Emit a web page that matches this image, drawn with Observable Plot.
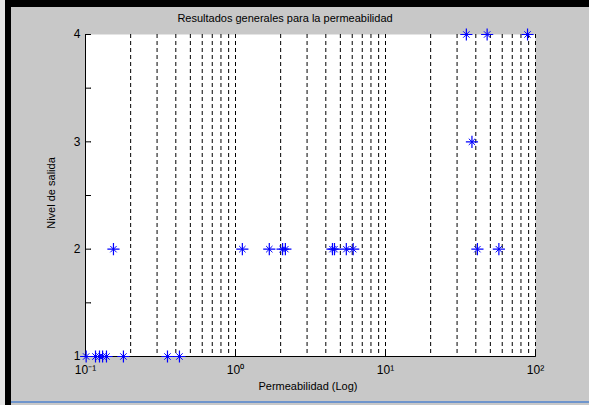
<!DOCTYPE html>
<html><head><meta charset="utf-8">
<script src="https://cdn.jsdelivr.net/npm/d3@7"></script>
<script src="https://cdn.jsdelivr.net/npm/@observablehq/plot@0.6"></script>
<style>
html,body{margin:0;padding:0;background:#c8c8c8;}
#fig{position:relative;width:589px;height:405px;background:#c8c8c8;overflow:hidden;font-family:"Liberation Sans",Arial,Helvetica,sans-serif;}
.txt{position:absolute;color:#000;white-space:nowrap;font-size:11px;line-height:13px;}
#chart{position:absolute;left:0;top:0;}
</style></head><body>
<div id="fig">
  <div style="position:absolute;left:0;top:0;width:5px;height:405px;background:#e6e6e6"></div>
  <div style="position:absolute;left:5px;top:0;width:584px;height:7px;background:#000"></div>
  <div style="position:absolute;left:5px;top:0;width:6px;height:405px;background:#000"></div>
  <div style="position:absolute;left:11px;top:401px;width:578px;height:2px;background:#6f95cc"></div>
  <div id="chart"></div>
  <div class="txt" id="title" style="left:285px;top:12px;transform:translateX(-50%)"></div>
  <div class="txt" id="xlab" style="left:308px;top:380px;transform:translateX(-50%)"></div>
  <div class="txt" id="ylab" style="left:51px;top:193px;transform:translate(-50%,-50%) rotate(-90deg)"></div>
</div>
<script>
const titleText = "Resultados generales para la permeabilidad";
const xLabel = "Permeabilidad (Log)";
const yLabel = "Nivel de salida";

// permeability values per output level
const perm1 = [0.101, 0.1166, 0.124, 0.13, 0.138, 0.179, 0.352, 0.423];
const perm2 = [0.1536, 1.111, 1.68, 2.06, 2.15, 4.43, 4.57, 5.48, 6.09, 41, 57];
const perm3 = [37.7];
const perm4 = [34.6, 47.6, 88.5];

const xTicks = [0.1, 1, 10, 100];
const xTickLabels = ["10\u207B\u00B9", "10\u2070", "10\u00B9", "10\u00B2"];
const gridX = [0.2,0.3,0.4,0.5,0.6,0.7,0.8,0.9,1,2,3,4,5,6,7,8,9,10,20,30,40,50,60,70,80,90,100];
const yTicks = [1, 1.5, 2, 2.5, 3, 3.5, 4];
const yTickLabels = [1, 2, 3, 4];

document.getElementById("title").textContent = titleText;
document.getElementById("xlab").textContent = xLabel;
document.getElementById("ylab").textContent = yLabel;

const data = [
  ...perm1.map(p => ({p, l: 1})),
  ...perm2.map(p => ({p, l: 2})),
  ...perm3.map(p => ({p, l: 3})),
  ...perm4.map(p => ({p, l: 4}))
];

const chart = Plot.plot({
  width: 589, height: 405,
  marginLeft: 85, marginRight: 54, marginTop: 34, marginBottom: 49,
  style: {background: "transparent", fontFamily: "Liberation Sans, Arial, sans-serif", fontSize: "12px", color: "black", overflow: "visible"},
  x: {type: "log", domain: [0.1, 100], label: null},
  y: {domain: [1, 4], label: null},
  marks: [
    Plot.frame({fill: "white", stroke: "none"}),
    Plot.ruleX(gridX, {stroke: "black", strokeDasharray: "4,3", strokeWidth: 1}),
    Plot.vector(yTicks, {x: () => 0.1, y: d => d, length: 5, rotate: 90, anchor: "start", r: 0, stroke: "black", strokeWidth: 1}),
    Plot.vector(xTicks, {x: d => d, y: () => 1, length: 5, rotate: 0, anchor: "start", r: 0, stroke: "black", strokeWidth: 1}),
    Plot.axisY(yTickLabels, {tickSize: 0, tickPadding: 5, tickFormat: d => String(d), label: null, fontSize: 12}),
    Plot.axisX(xTicks, {tickSize: 0, tickPadding: 9, tickFormat: d => xTickLabels[xTicks.indexOf(d)], label: null, fontSize: 12}),
    Plot.ruleX([0.1], {stroke: "black"}),
    Plot.ruleY([1], {stroke: "black"}),
    Plot.dot(data, {x: "p", y: "l", symbol: "plus", r: 4, stroke: "#0000ff", strokeWidth: 1.2}),
    Plot.dot(data, {x: "p", y: "l", symbol: "times", r: 3, stroke: "#0000ff", strokeWidth: 1})
  ]
});
document.getElementById("chart").appendChild(chart);
</script>
</body></html>
